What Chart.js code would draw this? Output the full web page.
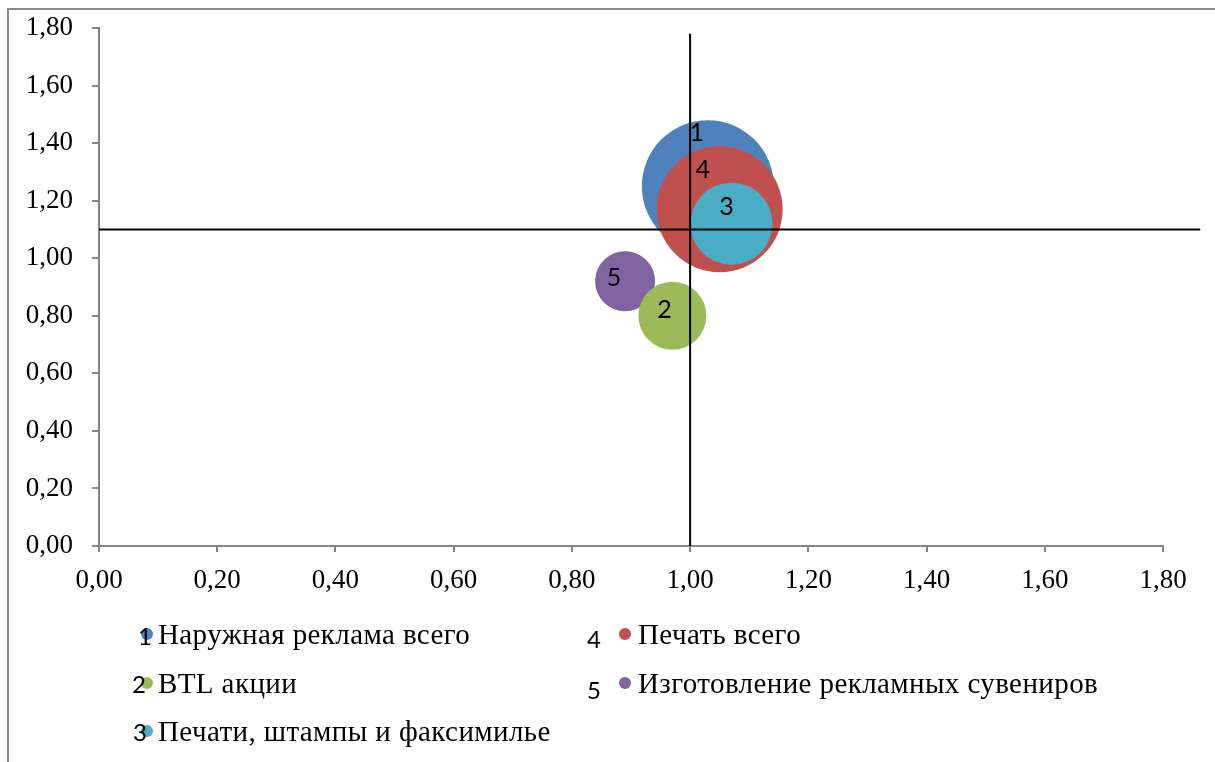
<!DOCTYPE html>
<html lang="ru">
<head>
<meta charset="utf-8">
<title>Bubble chart</title>
<script src="https://cdn.jsdelivr.net/npm/chart.js@4.4.1/dist/chart.umd.min.js"></script>
<style>
  html, body { margin: 0; padding: 0; background: #fff; }
  #wrap { position: relative; width: 1215px; height: 762px; overflow: hidden; }
  #frame {
    position: absolute; left: 7px; top: 8px; right: -10px; bottom: -10px;
    border-top: 2px solid #8c8c8c; border-left: 2px solid #8c8c8c;
    pointer-events: none;
  }
  canvas { position: absolute; left: 0; top: 0; }
</style>
</head>
<body>
<div id="wrap">
  <div id="frame"></div>
  <canvas id="chart" width="1215" height="762"></canvas>
</div>
<script>
// Series
const names = [
  'Наружная реклама всего',
  'BTL акции',
  'Печати, штампы и факсимилье',
  'Печать всего',
  'Изготовление рекламных сувениров'
];
const numbers = ['1', '2', '3', '4', '5'];
const xValues = [1.03, 0.97, 1.07, 1.05, 0.89];
const yValues = [1.25, 0.80, 1.12, 1.17, 0.92];
const bubbleSizes = [66, 34, 41, 63, 30];
const colors = ['#4f81bd', '#9bbb59', '#4bacc6', '#c0504d', '#8064a2'];
// drawing order: lower = on top
const drawOrder = [2, 3, 0, 1, 4];

// Axes
const axisMin = 0;
const axisMax = 1.8;
const axisStep = 0.2;

// Quadrant lines
const crossX = 1.0;
const crossY = 1.10;

const fmt = v => Number(v).toFixed(2).replace('.', ',');

// label nudges in px relative to bubble centre
const labelShift = [[-11, -53], [-8, -6], [-5, -17], [-17, -39], [-11, -3]];

const quadrantLines = {
  id: 'quadrantLines',
  afterDatasetsDraw(chart) {
    const { ctx, scales: { x, y } } = chart;
    const px = x.getPixelForValue(crossX);
    const py = y.getPixelForValue(crossY);
    ctx.save();
    ctx.strokeStyle = '#000';
    ctx.lineWidth = 2;
    ctx.beginPath();
    ctx.moveTo(px, y.getPixelForValue(1.78));
    ctx.lineTo(px, y.getPixelForValue(0));
    ctx.moveTo(x.getPixelForValue(0), py);
    ctx.lineTo(x.getPixelForValue(1.863), py);
    ctx.stroke();

    // bubble numbers
    ctx.fillStyle = '#000';
    ctx.font = '25px Lato, "Open Sans", sans-serif';
    ctx.textAlign = 'center';
    ctx.textBaseline = 'middle';
    numbers.forEach((n, i) => {
      const cx = x.getPixelForValue(xValues[i]) + labelShift[i][0];
      const cy = y.getPixelForValue(yValues[i]) + labelShift[i][1];
      ctx.fillText(n, cx, cy);
    });
    ctx.restore();
  }
};

// legend in two columns, number next to the marker
const sideLegend = {
  id: 'sideLegend',
  afterDraw(chart) {
    const { ctx } = chart;
    const cols = [
      { idx: [0, 1, 2], dotX: 147, numX: [145, 139, 140], numY: [645, 693, 741], textX: 158 },
      { idx: [3, 4], dotX: 625, numX: [594, 594], numY: [648, 699], textX: 638 }
    ];
    const dotY = [634, 683, 731];
    const baseY = [644, 693, 741];
    ctx.save();
    ctx.textBaseline = 'alphabetic';
    cols.forEach(col => {
      col.idx.forEach((i, r) => {
        ctx.fillStyle = colors[i];
        ctx.beginPath();
        ctx.arc(col.dotX, dotY[r], 6, 0, Math.PI * 2);
        ctx.fill();
        ctx.fillStyle = '#000';
        ctx.textAlign = 'center';
        ctx.letterSpacing = '0px';
        ctx.font = '24px Lato, "Open Sans", sans-serif';
        ctx.fillText(numbers[i], col.numX[r], col.numY[r]);
        ctx.textAlign = 'left';
        ctx.font = '29px "Liberation Serif", "Times New Roman", serif';
        ctx.letterSpacing = '0.4px';
        ctx.fillText(names[i], col.textX, baseY[r]);
      });
    });
    ctx.restore();
  }
};

const datasets = names.map((name, i) => ({
  label: name,
  data: [{ x: xValues[i], y: yValues[i], r: bubbleSizes[i] }],
  backgroundColor: colors[i],
  borderWidth: 0,
  hoverRadius: 0,
  order: drawOrder[i]
}));

const tickFont = { family: '"Liberation Serif", "Times New Roman", serif', size: 27 };

const buildTicks = s => {
  s.ticks = [];
  for (let v = axisMin; v <= axisMax + 1e-9; v += axisStep) s.ticks.push({ value: +v.toFixed(2) });
};

new Chart(document.getElementById('chart'), {
  type: 'bubble',
  data: { datasets },
  options: {
    responsive: false,
    animation: false,
    layout: { autoPadding: false, padding: { left: 0, top: 28, right: 52, bottom: 156 } },
    plugins: {
      legend: { display: false },
      tooltip: { enabled: false }
    },
    scales: {
      x: {
        type: 'linear',
        min: axisMin,
        max: axisMax,
        afterFit: s => { s.height = 60; s.paddingLeft = 0; s.paddingRight = 0; },
        afterBuildTicks: buildTicks,
        border: { color: '#868686', width: 2 },
        grid: { drawOnChartArea: false, drawTicks: true, tickLength: 6, color: '#868686', lineWidth: 2 },
        ticks: { color: '#000', font: tickFont, padding: 13, maxRotation: 0, callback: fmt }
      },
      y: {
        type: 'linear',
        min: axisMin,
        max: axisMax,
        afterFit: s => { s.width = 99; s.paddingTop = 0; s.paddingBottom = 0; },
        afterBuildTicks: buildTicks,
        border: { color: '#868686', width: 2 },
        grid: { drawOnChartArea: false, drawTicks: true, tickLength: 7, color: '#868686', lineWidth: 2 },
        ticks: { color: '#000', font: tickFont, padding: 19, callback: fmt }
      }
    }
  },
  plugins: [quadrantLines, sideLegend]
});
</script>
</body>
</html>
